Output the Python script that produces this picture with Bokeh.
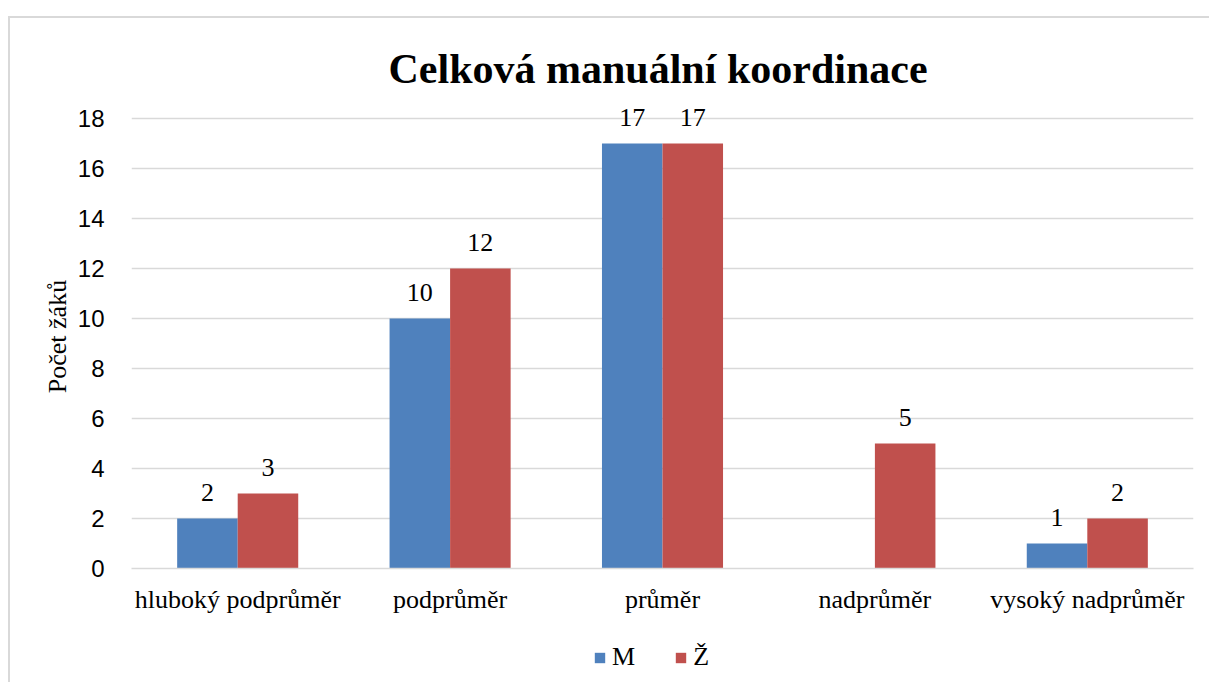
from bokeh.plotting import figure
from bokeh.layouts import column
from bokeh.models import ColumnDataSource, FactorRange, Range1d, FixedTicker, Legend, LegendItem
from bokeh.transform import dodge
from bokeh.embed import file_html
from bokeh.resources import INLINE
from bokeh.core.properties import value

categories = ["hluboký podprůměr", "podprůměr", "průměr", "nadprůměr", "vysoký nadprůměr"]
series_names = ["M", "Ž"]
m_values = [2, 10, 17, 0, 1]
z_values = [3, 12, 17, 5, 2]
y_ticks = [0, 2, 4, 6, 8, 10, 12, 14, 16, 18]

title_text = "Celková manuální koordinace"
y_label = "Počet žáků"

blue = "#4F81BD"
red = "#C0504D"
grid = "#d9d9d9"
serif = "Liberation Serif"

src = ColumnDataSource(dict(cat=categories, m=m_values, z=z_values,
                            m_lbl=[str(v) if v else "" for v in m_values],
                            z_lbl=[str(v) if v else "" for v in z_values]))

p = figure(x_range=FactorRange(*categories), y_range=Range1d(0, 18.56),
           width=1201, height=610, output_backend="svg", toolbar_location=None,
           min_border_left=121, min_border_right=18, min_border_top=86, min_border_bottom=60,
           margin=(16, 0, 0, 8),
           styles={"border-top": "2px solid #d9d9d9", "border-left": "2px solid #d9d9d9"})
p.outline_line_color = None

bw = 0.285
p.vbar(x=dodge("cat", -bw / 2, range=p.x_range), top="m", width=bw, source=src,
       fill_color=blue, line_color=None)
p.vbar(x=dodge("cat", bw / 2, range=p.x_range), top="z", width=bw, source=src,
       fill_color=red, line_color=None)

for col, off in (("m", -bw / 2), ("z", bw / 2)):
    p.text(x=dodge("cat", off, range=p.x_range), y=col, text=col + "_lbl", source=src,
           text_align="center", text_baseline="alphabetic", y_offset=-26,
           text_font=value(serif), text_font_size="26px", text_color="#000000")

# title
p.title.text = title_text
p.title.align = "left"
p.title.offset = 257
p.title.text_font = serif
p.title.text_font_size = "42px"
p.title.text_font_style = "bold"
p.title.text_color = "#000000"
p.title.standoff = 26

# axes
p.xaxis.axis_line_color = grid
p.xaxis.axis_line_width = 1.5
p.xaxis.major_tick_line_color = None
p.xaxis.minor_tick_line_color = None
p.xaxis.major_label_text_font = serif
p.xaxis.major_label_text_font_size = "26px"
p.xaxis.major_label_text_color = "#000000"
p.xaxis.major_label_standoff = 10

p.yaxis.ticker = FixedTicker(ticks=y_ticks)
p.yaxis.axis_line_color = None
p.yaxis.major_tick_line_color = None
p.yaxis.minor_tick_line_color = None
p.yaxis.major_label_text_font = "Liberation Sans"
p.yaxis.major_label_text_font_size = "24px"
p.yaxis.major_label_text_color = "#000000"
p.yaxis.major_label_standoff = 21
p.yaxis.axis_label = y_label
p.yaxis.axis_label_text_font = serif
p.yaxis.axis_label_text_font_size = "26px"
p.yaxis.axis_label_text_font_style = "normal"
p.yaxis.axis_label_text_color = "#000000"
p.yaxis.axis_label_standoff = 3

p.xgrid.grid_line_color = None
p.ygrid.grid_line_color = grid
p.ygrid.grid_line_width = 1.5

# legend strip (zero-width bars far out of view; only their legend swatches show)
lg = figure(x_range=FactorRange(*categories), y_range=Range1d(-1000, -999), width=1201, height=56,
            output_backend="svg", toolbar_location=None,
            min_border=0, margin=(0, 0, 0, 8),
            styles={"border-left": "2px solid #d9d9d9"})
lg.axis.visible = False
lg.grid.visible = False
lg.outline_line_color = None
lm = lg.vbar(x="cat", top="m", width=0, source=src, fill_color=blue, line_color=None)
lz = lg.vbar(x="cat", top="z", width=0, source=src, fill_color=red, line_color=None)

legend = Legend(items=[LegendItem(label=series_names[0], renderers=[lm]),
                       LegendItem(label=series_names[1], renderers=[lz])],
                orientation="horizontal", location=(462, 10),
                padding=0, margin=0, spacing=39, label_standoff=6,
                glyph_width=13, glyph_height=13,
                label_text_font=serif, label_text_font_size="26px", label_text_color="#000000",
                border_line_color=None, background_fill_alpha=0)
lg.add_layout(legend, "center")

layout = column(p, lg, spacing=0)
open("out.html", "w").write(file_html(layout, INLINE))
